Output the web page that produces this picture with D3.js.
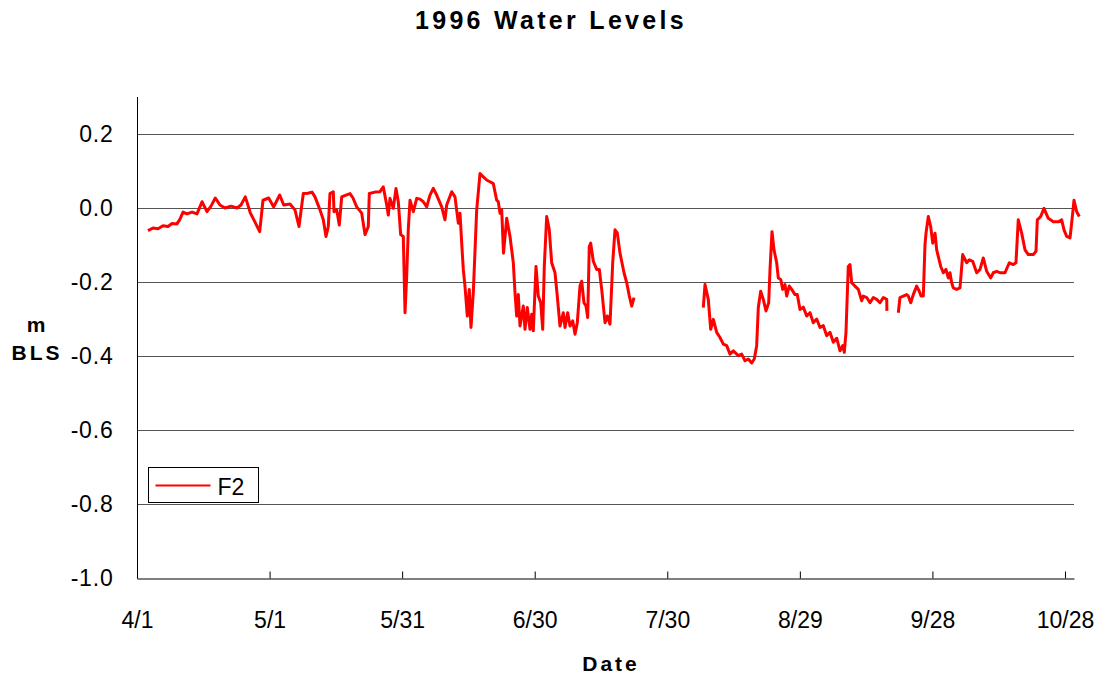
<!DOCTYPE html>
<html>
<head>
<meta charset="utf-8">
<script src="https://cdn.jsdelivr.net/npm/d3@7"></script>
<style>
  html, body { margin: 0; padding: 0; background: #fff; }
  svg { display: block; font-family: "Liberation Sans", Arial, sans-serif; }
</style>
</head>
<body>
<div id="chart"></div>
<script>
// days after 4/1/1996, water level (m BLS); three logger records with gaps
var daysA = [2.49,3.62,4.75,5.88,7.02,7.92,9.05,9.73,10.41,11.31,12.45,13.58,14.71,15.84,16.75,17.72,18.78,19.91,21.27,22.63,23.53,24.51,25.64,26.70,27.77,28.51,29.80,30.93,32.29,33.20,34.62,35.75,36.66,37.63,38.70,39.60,40.28,41.41,42.16,42.77,43.29,43.67,44.42,44.58,45.19,45.78,46.32,47.30,48.20,48.88,49.72,50.85,51.60,52.34,52.57,53.86,54.99,55.74,56.51,56.87,57.25,58.00,58.61,59.13,59.67,60.26,60.65,61.03,61.39,61.78,62.53,63.30,64.04,64.79,65.56,66.30,67.05,67.82,68.95,69.70,70.08,71.22,71.96,72.71,73.09,73.48,73.84,74.22,74.75,75.20,75.58,76.10,76.87,77.62,78.37,79.20,79.88,80.63,81.40,81.76,82.15,82.53,82.94,83.66,84.41,85.16,85.54,85.92,86.29,86.67,87.42,87.80,88.32,88.93,89.32,89.68,90.29,90.81,91.36,91.81,92.17,92.71,93.30,93.84,94.59,95.11,95.72,96.47,96.86,97.46,97.99,98.60,99.12,99.64,100.25,100.63,101.15,101.61,101.99,102.35,102.67,103.26,104.03,104.62,105.16,105.91,106.43,107.04,107.65,108.17,108.69,109.30,110.21,110.82,111.41,111.95,112.47];
var levelA = [-0.061,-0.054,-0.056,-0.048,-0.050,-0.042,-0.043,-0.030,-0.011,-0.016,-0.011,-0.016,0.017,-0.010,0.005,0.027,0.008,0.000,0.005,0.000,0.008,0.030,-0.013,-0.038,-0.064,0.021,0.027,0.003,0.035,0.008,0.011,-0.005,-0.050,0.039,0.040,0.043,0.030,-0.005,-0.032,-0.077,-0.050,0.039,0.044,-0.010,-0.005,-0.046,0.030,0.035,0.039,0.027,0.003,-0.014,-0.072,-0.050,0.039,0.043,0.044,0.057,0.008,-0.019,0.026,-0.001,0.053,0.017,-0.072,-0.077,-0.283,-0.184,-0.059,0.021,-0.010,0.026,0.024,0.017,0.003,0.035,0.053,0.035,0.003,-0.032,0.008,0.044,0.030,-0.041,-0.014,-0.095,-0.166,-0.211,-0.292,-0.220,-0.323,-0.229,-0.005,0.093,0.084,0.075,0.071,0.066,0.021,0.017,-0.014,-0.005,-0.122,-0.028,-0.077,-0.148,-0.229,-0.292,-0.234,-0.319,-0.265,-0.328,-0.269,-0.328,-0.287,-0.332,-0.158,-0.238,-0.256,-0.328,-0.158,-0.023,-0.059,-0.148,-0.175,-0.238,-0.319,-0.283,-0.323,-0.283,-0.319,-0.305,-0.341,-0.310,-0.211,-0.198,-0.256,-0.265,-0.296,-0.104,-0.095,-0.144,-0.166,-0.166,-0.220,-0.310,-0.292,-0.314,-0.148,-0.059,-0.068,-0.122,-0.175,-0.202,-0.238,-0.265,-0.242];

var daysB = [128.15,128.54,129.28,129.83,130.42,131.18,131.93,132.68,133.45,134.19,134.94,136.07,136.84,137.59,138.34,139.10,139.69,140.23,140.60,141.14,141.73,142.34,142.95,143.25,143.70,144.15,144.76,145.12,145.67,146.12,146.64,147.02,147.61,148.16,148.90,149.42,150.03,150.78,151.55,152.30,153.04,153.81,154.56,155.31,156.08,156.82,157.57,158.34,159.09,159.70,160.06,160.44,160.96,161.35,161.73,162.48,163.23,164.00,164.36,165.13,165.88,166.62,167.39,168.14,168.89,169.66,169.70];
var levelB = [-0.269,-0.207,-0.247,-0.328,-0.301,-0.336,-0.350,-0.368,-0.372,-0.395,-0.386,-0.399,-0.395,-0.413,-0.408,-0.419,-0.408,-0.372,-0.269,-0.225,-0.247,-0.278,-0.256,-0.166,-0.064,-0.113,-0.148,-0.189,-0.193,-0.220,-0.207,-0.238,-0.211,-0.220,-0.234,-0.234,-0.274,-0.268,-0.292,-0.283,-0.310,-0.300,-0.323,-0.318,-0.345,-0.336,-0.363,-0.352,-0.386,-0.372,-0.390,-0.336,-0.158,-0.153,-0.202,-0.211,-0.220,-0.251,-0.238,-0.242,-0.256,-0.242,-0.247,-0.256,-0.242,-0.247,-0.278];

var daysC = [172.28,172.66,173.41,174.18,174.54,175.09,175.67,176.44,177.03,177.42,177.94,178.32,178.55,179.07,179.61,180.07,180.59,180.97,181.33,181.88,182.46,183.07,183.59,183.98,184.36,184.72,185.49,186.24,186.85,187.76,188.35,189.11,190.02,190.77,191.51,192.28,193.19,193.78,194.55,195.29,196.42,197.40,198.30,198.91,199.43,200.20,200.95,201.70,202.83,203.44,203.74,204.50,205.25,206.22,207.36,208.49,209.25,209.78,210.39,211.14,211.75,212.04,212.65,213.24];
var levelC = [-0.283,-0.242,-0.238,-0.234,-0.238,-0.256,-0.234,-0.211,-0.225,-0.238,-0.238,-0.099,-0.068,-0.023,-0.050,-0.095,-0.068,-0.113,-0.131,-0.158,-0.175,-0.166,-0.189,-0.175,-0.202,-0.216,-0.220,-0.216,-0.126,-0.148,-0.140,-0.144,-0.175,-0.166,-0.135,-0.171,-0.189,-0.175,-0.171,-0.175,-0.175,-0.148,-0.153,-0.148,-0.032,-0.068,-0.113,-0.126,-0.126,-0.117,-0.032,-0.023,-0.001,-0.028,-0.037,-0.037,-0.032,-0.059,-0.077,-0.081,-0.014,0.021,-0.010,-0.023];

var tickDays = [0, 30, 60, 90, 120, 150, 180, 210];
var tickLabels = ["4/1", "5/1", "5/31", "6/30", "7/30", "8/29", "9/28", "10/28"];
var levelTicks = [0.2, 0.0, -0.2, -0.4, -0.6, -0.8, -1.0];
var seriesName = "F2";

var width = 1104,
	height = 677,
	margin = {top: 97, right: 30, bottom: 99, left: 137};

var svg = d3.select('#chart').append('svg')
	.attr('width', width)
	.attr('height', height);

var x = d3.scaleLinear().domain([0, 212.04]).range([margin.left, width - margin.right]);
var y = d3.scaleLinear().domain([-1.0, 0.3]).range([height - margin.bottom, margin.top]);

// gridlines
svg.append('g')
	.selectAll('line')
	.data(levelTicks.filter(function(d) { return d > -1; }))
	.enter().append('line')
	.attr('x1', x.range()[0]).attr('x2', x.range()[1])
	.attr('y1', function(d) { return Math.round(y(d)) + 0.5; })
	.attr('y2', function(d) { return Math.round(y(d)) + 0.5; })
	.attr('stroke', '#555')
	.attr('stroke-width', 1);

// y axis
var yAxis = svg.append('g')
	.attr('transform', 'translate(' + (margin.left + 0.5) + ',0)')
	.call(d3.axisLeft(y).tickValues(levelTicks).tickSize(0).tickPadding(24));
yAxis.select('.domain').attr('stroke', '#000').attr('d', 'M0,' + y.range()[1] + 'V' + (y.range()[0] + 0.5));
yAxis.selectAll('text')
	.attr('font-size', 23)
	.attr('font-family', '"Liberation Sans", Arial, sans-serif')
	.attr('letter-spacing', 0.8)
	.attr('fill', '#000')
	.text(function(d) { return d3.format('.1f')(d).replace('\u2212', '-'); });

// x axis, ticks point inward
var xAxis = svg.append('g')
	.attr('transform', 'translate(0,' + (Math.round(y(-1.0)) + 0.5) + ')')
	.call(d3.axisBottom(x).tickValues(tickDays).tickSizeInner(-7).tickSizeOuter(0).tickPadding(33)
		.tickFormat(function(d, i) { return tickLabels[i]; }));
xAxis.select('.domain').attr('stroke', '#000');
xAxis.selectAll('.tick line').attr('stroke', '#000');
xAxis.selectAll('text')
	.attr('font-size', 23)
	.attr('font-family', '"Liberation Sans", Arial, sans-serif')
	.attr('fill', '#000');

// the line, one path per record
var line = d3.line()
	.x(function(d) { return x(d[0]); })
	.y(function(d) { return y(d[1]); });

[[daysA, levelA], [daysB, levelB], [daysC, levelC]].forEach(function(s) {
	svg.append('path')
		.datum(d3.zip(s[0], s[1]))
		.attr('d', line)
		.attr('fill', 'none')
		.attr('stroke', '#ff0000')
		.attr('stroke-width', 3)
		.attr('stroke-linejoin', 'round');
});

// legend
var legend = svg.append('g').attr('transform', 'translate(148.5,467.5)');
legend.append('rect')
	.attr('width', 110).attr('height', 35)
	.attr('fill', '#fff').attr('stroke', '#000').attr('stroke-width', 1);
legend.append('line')
	.attr('x1', 7).attr('x2', 62).attr('y1', 18).attr('y2', 18)
	.attr('stroke', '#ff0000').attr('stroke-width', 2);
legend.append('text')
	.attr('x', 69).attr('y', 27)
	.attr('font-size', 23)
	.text(seriesName);

// titles
svg.append('text')
	.attr('x', 551).attr('y', 29)
	.attr('text-anchor', 'middle')
	.attr('font-size', 25).attr('font-weight', 'bold')
	.attr('letter-spacing', 3.3)
	.text('1996 Water Levels');

svg.append('text')
	.attr('x', 611).attr('y', 671)
	.attr('text-anchor', 'middle')
	.attr('font-size', 21).attr('font-weight', 'bold')
	.attr('letter-spacing', 3)
	.text('Date');

svg.append('text')
	.attr('x', 36).attr('y', 332)
	.attr('text-anchor', 'middle')
	.attr('font-size', 21).attr('font-weight', 'bold')
	.text('m');
svg.append('text')
	.attr('x', 37).attr('y', 360)
	.attr('text-anchor', 'middle')
	.attr('font-size', 21).attr('font-weight', 'bold')
	.attr('letter-spacing', 3)
	.text('BLS');
</script>
</body>
</html>
